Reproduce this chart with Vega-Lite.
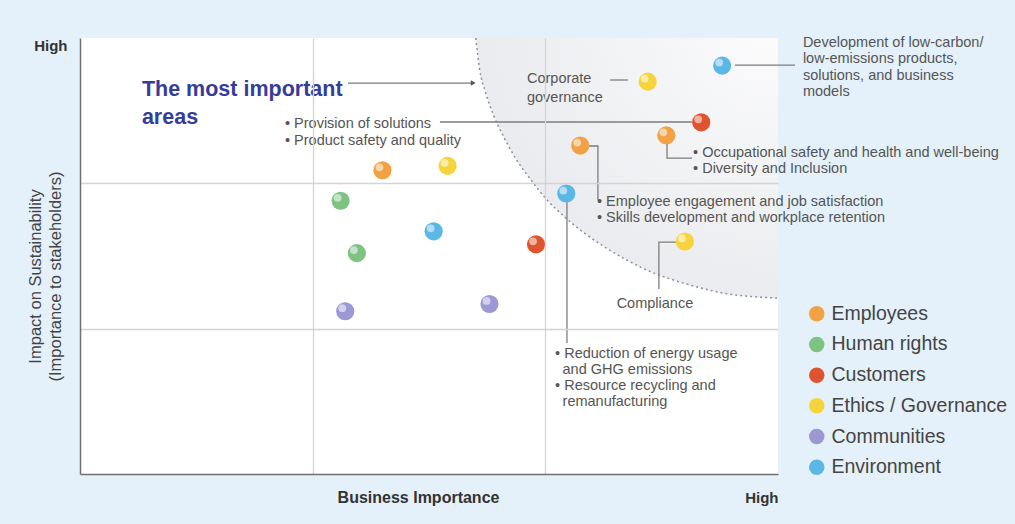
{
  "$schema": "https://vega.github.io/schema/vega-lite/v6.json",
  "width": 698,
  "height": 436,
  "autosize": {"type": "none"},
  "padding": {"left": 80, "top": 38, "right": 237, "bottom": 50},
  "background": "#e4f1fa",
  "config": {
    "font": "Liberation Sans",
    "view": {"fill": "#ffffff", "stroke": null}
  },
  "encoding": {
    "x": {
      "field": "x", "type": "quantitative",
      "scale": {"domain": [0, 3], "nice": false, "zero": false},
      "axis": {
        "zindex": 1,
        "values": [1, 2, 3], "ticks": false,
        "labelExpr": "datum.value == 3 ? 'High' : ''",
        "labelAlign": "right", "labelBaseline": "middle", "labelPadding": 23,
        "labelFlush": false, "labelOverlap": false,
        "labelFontSize": 15, "labelFontWeight": "bold", "labelColor": "#333333",
        "domainColor": "#707070", "domainWidth": 1.5,
        "grid": true, "gridColor": "#d4d4d4", "gridWidth": 1.3,
        "gridOpacity": {"condition": {"test": "datum.value == 3", "value": 0}, "value": 1},
        "title": "Business Importance", "titleFontSize": 16, "titleFontWeight": "bold",
        "titleColor": "#333333", "titleX": 338, "titleY": 23, "titleBaseline": "middle"
      }
    },
    "y": {
      "field": "y", "type": "quantitative",
      "scale": {"domain": [0, 3], "nice": false, "zero": false},
      "axis": {
        "zindex": 1,
        "values": [1, 2, 3], "ticks": false,
        "labelExpr": "datum.value == 3 ? 'High' : ''",
        "labelAlign": "right", "labelBaseline": "top", "labelPadding": 13,
        "labelFlush": false, "labelOverlap": false,
        "labelFontSize": 15, "labelFontWeight": "bold", "labelColor": "#333333",
        "domainColor": "#707070", "domainWidth": 1.5,
        "grid": true, "gridColor": "#d4d4d4", "gridWidth": 1.3,
        "gridOpacity": {"condition": {"test": "datum.value == 3", "value": 0}, "value": 1},
        "title": ["Impact on Sustainability", "(Importance to stakeholders)"],
        "titleFontSize": 16.5, "titleFontWeight": "normal", "titleColor": "#444444",
        "titleX": -45, "titleY": 238, "titleAngle": 270, "titleAlign": "center",
        "titleBaseline": "middle", "titleLineHeight": 20
      }
    }
  },
  "layer": [
    {
      "description": "shaded zone of the most important areas",
      "data": {"name": "zone", "values": [
        {"x": 1.701, "y": 3.0}, {"x": 1.717, "y": 2.79}, {"x": 1.742, "y": 2.63},
        {"x": 1.777, "y": 2.47}, {"x": 1.821, "y": 2.32}, {"x": 1.873, "y": 2.17},
        {"x": 1.935, "y": 2.03}, {"x": 2.005, "y": 1.89}, {"x": 2.082, "y": 1.77},
        {"x": 2.166, "y": 1.66}, {"x": 2.257, "y": 1.56}, {"x": 2.353, "y": 1.47},
        {"x": 2.455, "y": 1.39}, {"x": 2.56, "y": 1.33}, {"x": 2.669, "y": 1.28},
        {"x": 2.78, "y": 1.24}, {"x": 2.894, "y": 1.22}, {"x": 3.0, "y": 1.21}
      ]},
      "mark": {
        "type": "area", "interpolate": "monotone",
        "fill": {
          "gradient": "radial", "x1": 1, "y1": 0, "r1": 0, "x2": 1, "y2": 0, "r2": 1,
          "stops": [
            {"offset": 0, "color": "#fcfcfd"},
            {"offset": 0.6, "color": "#f1f2f4"},
            {"offset": 1, "color": "#e9ebee"}
          ]
        }
      },
      "encoding": {"y2": {"datum": 3}}
    },
    {
      "data": {"name": "zone"},
      "mark": {"type": "line", "interpolate": "monotone", "color": "#8a909a", "strokeWidth": 1.5, "strokeDash": [2, 3]},
      "encoding": {}
    },
    {
      "description": "connector lines from labels to bubbles",
      "data": {"values": [
        {"id": "a", "o": 1, "x": 1.152, "y": 2.69}, {"id": "a", "o": 2, "x": 1.69, "y": 2.69},
        {"id": "b", "o": 1, "x": 2.278, "y": 2.711}, {"id": "b", "o": 2, "x": 2.355, "y": 2.711},
        {"id": "c", "o": 1, "x": 2.815, "y": 2.814}, {"id": "c", "o": 2, "x": 3.073, "y": 2.814},
        {"id": "d", "o": 1, "x": 1.547, "y": 2.422}, {"id": "d", "o": 2, "x": 2.63, "y": 2.422},
        {"id": "e", "o": 1, "x": 2.523, "y": 2.333}, {"id": "e", "o": 2, "x": 2.523, "y": 2.174}, {"id": "e", "o": 3, "x": 2.63, "y": 2.174},
        {"id": "f", "o": 1, "x": 2.153, "y": 2.257}, {"id": "f", "o": 2, "x": 2.226, "y": 2.257}, {"id": "f", "o": 3, "x": 2.226, "y": 1.885},
        {"id": "g", "o": 1, "x": 2.605, "y": 1.596}, {"id": "g", "o": 2, "x": 2.488, "y": 1.596}, {"id": "g", "o": 3, "x": 2.488, "y": 1.273},
        {"id": "h", "o": 1, "x": 2.093, "y": 1.927}, {"id": "h", "o": 2, "x": 2.093, "y": 0.901}
      ]},
      "mark": {"type": "line", "color": "#7d7d7d", "strokeWidth": 1.3},
      "encoding": {
        "detail": {"field": "id", "type": "nominal"},
        "order": {"field": "o", "type": "quantitative"}
      }
    },
    {
      "description": "arrow head",
      "data": {"values": [{"x": 1.69, "y": 2.69}]},
      "mark": {"type": "point", "shape": "triangle-right", "size": 30, "filled": true, "color": "#555555", "opacity": 1}
    },
    {
      "description": "material issues",
      "data": {"name": "issues", "values": [
        {"group": "Environment", "x": 2.76, "y": 2.81},
        {"group": "Ethics / Governance", "x": 2.44, "y": 2.70},
        {"group": "Customers", "x": 2.67, "y": 2.42},
        {"group": "Employees", "x": 2.52, "y": 2.33},
        {"group": "Employees", "x": 2.15, "y": 2.26},
        {"group": "Environment", "x": 2.09, "y": 1.93},
        {"group": "Ethics / Governance", "x": 2.60, "y": 1.60},
        {"group": "Customers", "x": 1.96, "y": 1.58},
        {"group": "Employees", "x": 1.30, "y": 2.09},
        {"group": "Ethics / Governance", "x": 1.58, "y": 2.12},
        {"group": "Human rights", "x": 1.12, "y": 1.88},
        {"group": "Environment", "x": 1.52, "y": 1.67},
        {"group": "Human rights", "x": 1.19, "y": 1.52},
        {"group": "Communities", "x": 1.14, "y": 1.12},
        {"group": "Communities", "x": 1.76, "y": 1.17}
      ]},
      "mark": {"type": "circle", "size": 330, "opacity": 1},
      "encoding": {
        "color": {
          "field": "group", "type": "nominal",
          "scale": {
            "domain": ["Employees", "Human rights", "Customers", "Ethics / Governance", "Communities", "Environment"],
            "range": ["#f2a245", "#7fc383", "#e0532f", "#f6d43c", "#9b98d4", "#5bb7e5"]
          },
          "legend": {
            "orient": "none", "legendX": 727, "legendY": 266, "title": null,
            "labelFontSize": 19.5, "labelColor": "#444444", "labelOffset": 5, "labelLimit": 300,
            "symbolType": "circle", "symbolSize": 240, "symbolStrokeWidth": 0, "symbolOpacity": 1,
            "rowPadding": 9.7, "padding": 0
          }
        }
      }
    },
    {
      "data": {"name": "issues"},
      "mark": {"type": "circle", "size": 60, "color": "#ffffff", "opacity": 0.55, "xOffset": -3, "yOffset": -3}
    },
    {
      "description": "issue labels",
      "data": {"values": [
        {"x": 3.107, "y": 2.973, "label": "Development of low-carbon/\nlow-emissions products,\nsolutions, and business\nmodels"},
        {"x": 0.881, "y": 2.415, "label": "• Provision of solutions\n• Product safety and quality"},
        {"x": 2.635, "y": 2.216, "label": "• Occupational safety and health and well-being\n• Diversity and Inclusion"},
        {"x": 2.222, "y": 1.879, "label": "• Employee engagement and job satisfaction\n• Skills development and workplace retention"},
        {"x": 2.042, "y": 0.833, "label": "• Reduction of energy usage"},
        {"x": 2.074, "y": 0.722, "label": "and GHG emissions"},
        {"x": 2.042, "y": 0.612, "label": "• Resource recycling and"},
        {"x": 2.074, "y": 0.502, "label": "remanufacturing"}
      ]},
      "mark": {"type": "text", "align": "left", "baseline": "top", "dy": -6, "fontSize": 14.5, "lineHeight": 16.5, "lineBreak": "\n", "color": "#555555"},
      "encoding": {"text": {"field": "label"}}
    },
    {
      "data": {"values": [{"x": 1.921, "y": 2.725, "label": "Corporate\ngovernance"}]},
      "mark": {"type": "text", "align": "left", "baseline": "top", "dy": -6, "fontSize": 14.5, "lineHeight": 19, "lineBreak": "\n", "color": "#555555"},
      "encoding": {"text": {"field": "label"}}
    },
    {
      "data": {"values": [{"x": 2.471, "y": 1.17, "label": "Compliance"}]},
      "mark": {"type": "text", "align": "center", "baseline": "middle", "fontSize": 14.5, "color": "#555555"},
      "encoding": {"text": {"field": "label"}}
    },
    {
      "data": {"values": [{"x": 0.266, "y": 2.656, "label": "The most important\nareas"}]},
      "mark": {"type": "text", "align": "left", "baseline": "top", "dy": -9, "fontSize": 21.5, "fontWeight": "bold", "lineHeight": 28, "lineBreak": "\n", "color": "#363c9a"},
      "encoding": {"text": {"field": "label"}}
    },
    {
      "mark": {"type": "text", "text": "Low", "align": "right", "baseline": "middle", "dx": -13, "dy": 29, "fontSize": 15, "fontWeight": "bold", "color": "#333333"},
      "encoding": {"x": {"datum": 0}, "y": {"datum": 0}}
    }
  ]
}
